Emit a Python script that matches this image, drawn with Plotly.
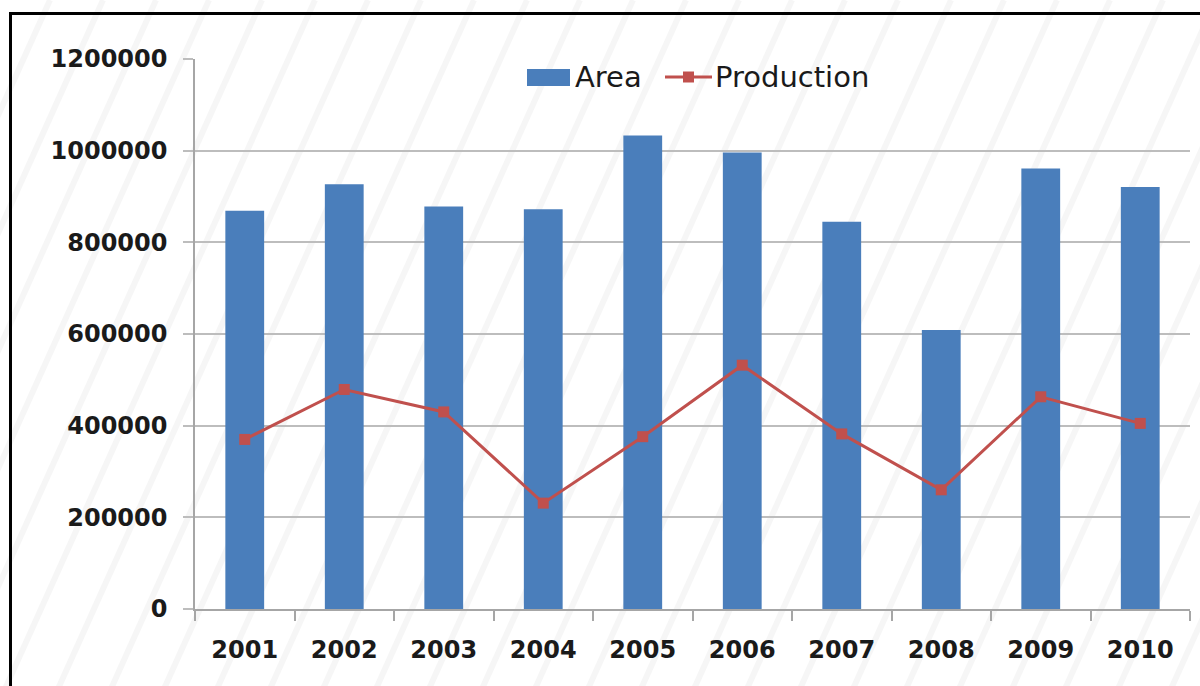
import plotly.graph_objects as go

years = ["2001", "2002", "2003", "2004", "2005", "2006", "2007", "2008", "2009", "2010"]
area = [869000, 927000, 878000, 872000, 1033000, 996000, 845000, 609000, 961000, 921000]
production = [370000, 479000, 430000, 231000, 376000, 532000, 382000, 260000, 463000, 405000]
y_ticks = [0, 200000, 400000, 600000, 800000, 1000000, 1200000]

BLUE = "#4A7EBB"
RED = "#C0504D"

W, H = 1200, 686
L, R, T, B = 195, 10, 59, 77
PW, PH = W - L - R, H - T - B


def px_x(x):
    return (x - L) / PW


def px_y(y):
    return (H - B - y) / PH


fig = go.Figure()
fig.add_trace(go.Bar(
    x=years, y=area, name="Area",
    marker=dict(color=BLUE, line=dict(width=0)),
    width=0.39, showlegend=False,
))
fig.add_trace(go.Scatter(
    x=years, y=production, name="Production",
    mode="lines+markers",
    line=dict(color=RED, width=3),
    marker=dict(symbol="square", size=11, color=RED),
    showlegend=False,
))

shapes = []
# faint diagonal hatching over the background
for k in range(-20, 30):
    x0 = k * 53
    shapes.append(dict(
        type="line", xref="paper", yref="paper", layer="below",
        x0=px_x(x0), y0=px_y(700), x1=px_x(x0 + 0.45 * 700), y1=px_y(0),
        line=dict(color="rgba(200,200,200,0.16)", width=6),
    ))
# outer frame
shapes.append(dict(
    type="rect", xref="paper", yref="paper", layer="above",
    x0=px_x(10.5), y0=px_y(720), x1=px_x(1230), y1=px_y(13.5),
    line=dict(color="black", width=3), fillcolor="rgba(0,0,0,0)",
))

# legend keys at the top of the plot
LEG_Y = 77
shapes.append(dict(
    type="rect", xref="paper", yref="paper", layer="above",
    x0=px_x(527), x1=px_x(570), y0=px_y(86), y1=px_y(69),
    fillcolor=BLUE, line=dict(width=0),
))
shapes.append(dict(
    type="line", xref="paper", yref="paper", layer="above",
    x0=px_x(665), x1=px_x(712), y0=px_y(LEG_Y), y1=px_y(LEG_Y),
    line=dict(color=RED, width=3),
))
shapes.append(dict(
    type="rect", xref="paper", yref="paper", layer="above",
    x0=px_x(683), x1=px_x(694), y0=px_y(LEG_Y + 5.5), y1=px_y(LEG_Y - 5.5),
    fillcolor=RED, line=dict(width=0),
))
legend_labels = [("Area", 573), ("Production", 713)]
annotations = [
    dict(text=txt, xref="paper", yref="paper", x=px_x(xp), y=px_y(LEG_Y),
         xanchor="left", yanchor="middle", showarrow=False,
         font=dict(family="DejaVu Sans", size=29, color="#1a1a1a"))
    for txt, xp in legend_labels
]

fig.update_layout(
    width=W, height=H,
    margin=dict(l=L, r=R, t=T, b=B, pad=0),
    paper_bgcolor="white",
    plot_bgcolor="rgba(0,0,0,0)",
    font=dict(family="DejaVu Sans", color="#1a1a1a"),
    showlegend=False,
    shapes=shapes,
    annotations=annotations,
)
fig.update_xaxes(
    type="category", range=[-0.5, 9.5],
    showline=True, linecolor="#a6a6a6", linewidth=2,
    ticks="outside", tickson="boundaries", ticklen=10, tickcolor="#a6a6a6", tickwidth=1.5,
    tickfont=dict(family="DejaVu Sans", size=24, color="#1a1a1a", weight="bold"),
    ticklabelstandoff=18,
    showgrid=False,
)
fig.update_yaxes(
    range=[0, 1200000], tickvals=y_ticks, ticktext=[str(v) for v in y_ticks],
    showline=True, linecolor="#a6a6a6", linewidth=1.5,
    showgrid=True, gridcolor="#bdbdbd", gridwidth=2,
    ticks="outside", ticklen=10, tickcolor="#bdbdbd", tickwidth=2,
    tickfont=dict(family="DejaVu Sans", size=24, color="#1a1a1a", weight="bold"),
    ticklabelstandoff=11,
    zeroline=False,
)

fig.write_html("out.html")
